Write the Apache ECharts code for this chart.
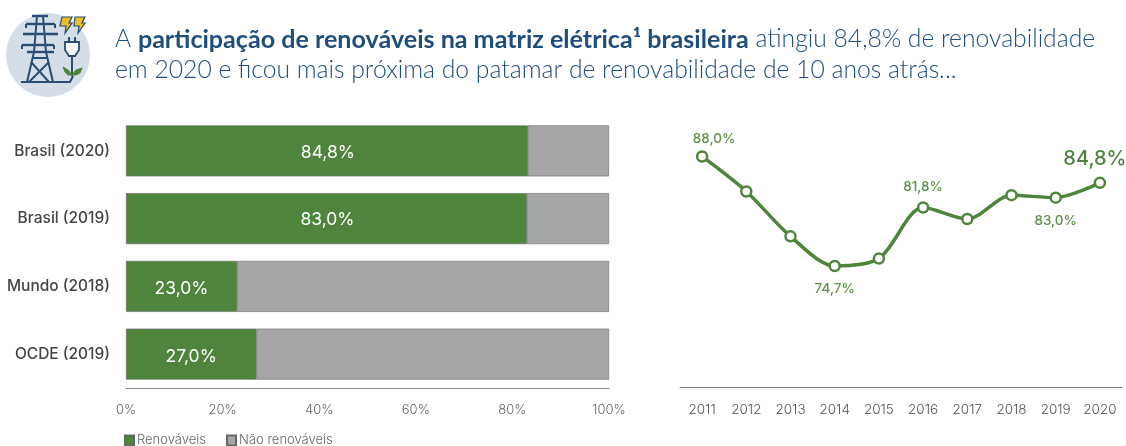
<!DOCTYPE html>
<html><head><meta charset="utf-8">
<style>html,body{margin:0;padding:0;background:#fff}#c{width:1126px;height:446px}</style>
<script src="https://cdn.jsdelivr.net/npm/echarts@6/dist/echarts.min.js"></script>
</head><body><div id="c"></div>
<script>
const barCategories = ['Brasil (2020)','Brasil (2019)','Mundo (2018)','OCDE (2019)'];
const renewables = [83.2,83.0,23.0,27.0];
const barLabels = ['84,8%','83,0%','23,0%','27,0%'];
const nonRenewables = [16.8,17.0,77.0,73.0];
const years = ['2011','2012','2013','2014','2015','2016','2017','2018','2019','2020'];
const trend = [88.0,83.75,78.3,74.7,75.6,81.8,80.4,83.3,83.0,84.8];
const trendLabels = {0:'88,0%',3:'74,7%',5:'81,8%',8:'83,0%',9:'84,8%'};
const FONT='Inter', GREEN='#4f843c', GREY='#a6a6a6', NAVY='#1f4e7d';
const chart=echarts.init(document.getElementById('c'),null,{renderer:'canvas'});
const ic='#2a4d73';
function poly(points,stroke,fill,w){return {type:fill?'polygon':'polyline',shape:{points},style:{stroke:stroke||ic,fill:fill||null,lineWidth:w||2}};}
const icon=[
 {type:'circle',shape:{cx:48,cy:55,r:42},style:{fill:'#d5dde6'}},
 poly([[21,82],[70,82],[73,76]]),
 poly([[27,82],[34,52],[37,16]]),poly([[53,82],[46,52],[43,16]]),
 poly([[32,58],[48,58]]),poly([[31,62],[49,82]]),poly([[49,62],[29,82]]),
 poly([[26,24],[55,24]],null,null,2.4),poly([[23,34],[58,34]],null,null,2.4),
 poly([[22,45],[54,45]],null,null,2.4),poly([[27,52],[54,52]],null,null,2.4),
 poly([[22,45],[22,49]]),poly([[54,45],[54,49]]),poly([[26,24],[26,28]]),poly([[55,24],[55,28]]),
 poly([[32,16],[48,16]],null,null,2.4),
 poly([[62,17],[72,17],[69,23],[72,23],[65,33],[66,26],[60,26]],'#1f4e7d','#f2bd1d',1.2),
 poly([[75,17],[85,17],[82,23],[85,23],[78,33],[79,26],[74,26]],'#1f4e7d','#f2bd1d',1.2),
 poly([[69,37],[69,42]]),poly([[75,37],[75,42]]),
 poly([[65,42],[79,42],[79,50],[75,56],[69,56],[65,50]],ic,'#f5f7fa',1.8),
 poly([[72,56],[72,76]]),
 poly([[72,75],[68,70],[63,67],[65,72],[68,75]],'#4d8439','#4d8439',1),
 poly([[72,75],[76,70],[82,68],[80,73],[76,75]],'#4d8439','#4d8439',1)
];
const barLabelOffset=[[1,1.5],[1,1.5],[0,2.5],[0,2.5]];
const pointLabels={
 0:{position:'top',offset:[12,6]},
 3:{position:'bottom',offset:[0,0]},
 5:{position:'top',offset:[0,3]},
 8:{position:'bottom'},
 9:{position:'top',distance:8,offset:[-5,0],fontSize:20,color:'#4f843c'}
};
const option={
 animation:false,
 backgroundColor:'#fff',
 textStyle:{fontFamily:FONT},
 title:{left:115,top:24,padding:0,text:'{n|A }{b|participação de renováveis na matriz elétrica¹ brasileira}{n| atingiu 84,8% de renovabilidade}\n{n|em 2020 e ficou mais próxima do patamar de renovabilidade de 10 anos atrás...}',
  textStyle:{rich:{n:{fontFamily:'Lato',fontSize:24.7,fontWeight:300,color:NAVY,lineHeight:31},b:{fontFamily:'Lato',fontSize:25.1,fontWeight:700,color:NAVY,lineHeight:31}}}},
 legend:{left:124,top:434,itemWidth:9,itemHeight:10,itemGap:20,icon:'rect',padding:0,
  data:['Renováveis','Não renováveis'],textStyle:{fontFamily:FONT,fontSize:13,fontWeight:300,color:'#666',padding:[0,0,0,-2]}},
 grid:[{left:126,width:483,top:117,height:271},{left:680,width:442,top:140,height:247}],
 xAxis:[
  {gridIndex:0,type:'value',min:0,max:100,interval:20,axisLine:{show:true,lineStyle:{color:'#8c8c8c',width:1}},axisTick:{show:false},splitLine:{show:false},
   axisLabel:{color:'#666',fontSize:13,fontWeight:300,margin:16,formatter:'{value}%'}},
  {gridIndex:1,type:'category',data:years,boundaryGap:true,axisTick:{show:false},axisLine:{lineStyle:{color:'#7f7f7f',width:1}},
   axisLabel:{color:'#555',fontSize:13.5,fontWeight:300,margin:16}}
 ],
 yAxis:[
  {gridIndex:0,type:'category',inverse:true,data:barCategories,axisTick:{show:false},
   axisLine:{show:false},axisLabel:{color:'#444',fontSize:15.5,fontWeight:500,margin:16}},
  {gridIndex:1,type:'value',min:60,max:90,show:false}
 ],
 series:[
  {name:'Renováveis',type:'bar',stack:'a',xAxisIndex:0,yAxisIndex:0,barWidth:51,
   data:renewables.map((v,i)=>({value:v,label:{offset:barLabelOffset[i]}})),
   itemStyle:{color:GREEN,borderColor:'#666',borderWidth:0.6},
   label:{show:true,position:'inside',color:'#fff',fontSize:17.5,formatter:p=>barLabels[p.dataIndex]}},
  {name:'Não renováveis',type:'bar',stack:'a',xAxisIndex:0,yAxisIndex:0,barWidth:51,data:nonRenewables,
   itemStyle:{color:GREY,borderColor:'#666',borderWidth:0.6}},
  {type:'line',xAxisIndex:1,yAxisIndex:1,smooth:0.3,symbol:'circle',symbolSize:10,showAllSymbols:true,
   lineStyle:{color:GREEN,width:3.5},itemStyle:{color:'#fff',borderColor:GREEN,borderWidth:2.5},
   label:{show:true,color:'#5b9147',fontSize:13.5,fontWeight:500,distance:10,formatter:p=>trendLabels[p.dataIndex]||''},
   data:trend.map((v,i)=>({value:v,label:pointLabels[i]||{position:'top'}}))}
 ],
 graphic:icon.map(e=>Object.assign({silent:true},e))
};
chart.setOption(option);
</script></body></html>
